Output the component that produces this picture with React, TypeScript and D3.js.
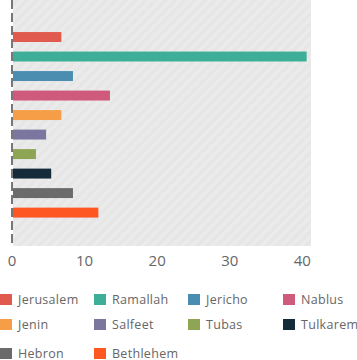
import React from "react";
import * as d3 from "d3";

const categories = ["Jerusalem", "Ramallah", "Jericho", "Nablus", "Jenin", "Salfeet", "Tubas", "Tulkarem", "Hebron", "Bethlehem"];
const values = [6.8, 40.6, 8.4, 13.5, 6.8, 4.7, 3.3, 5.4, 8.4, 11.9];
const colors = ["#e05a4e", "#3fae98", "#4a8db0", "#d05a7c", "#f59e47", "#7a76a0", "#8ea653", "#152b39", "#6b6b6b", "#ff5722"];
const tickValues = [0, 10, 20, 30, 40];

const W = 357;
const H = 360;
const plotLeft = 12;
const plotRight = 311;
const plotTop = 0;
const plotBottom = 246;

export default function App() {
  const x = d3.scaleLinear().domain([0, 41.2]).range([plotLeft, plotRight]);
  const y = d3
    .scaleBand<string>()
    .domain(categories)
    .range([plotTop, plotBottom])
    .paddingInner(0.49)
    .paddingOuter(1.55)
    .align(0.53);

  const legendCols = [0, 94, 188, 283];
  const legendRows = [294, 319, 348];

  return (
    <svg width={W} height={H} style={{ position: "absolute", left: 0, top: 0 }} fontFamily="'Open Sans', sans-serif">
      <defs>
        <pattern id="stripes" patternUnits="userSpaceOnUse" width={7} height={7} patternTransform="rotate(45)">
          <rect width={7} height={7} fill="#e6e6e6" />
          <rect width={3.5} height={7} fill="#ebebeb" />
        </pattern>
      </defs>
      <rect x={plotLeft + 1} y={plotTop} width={plotRight - plotLeft - 1} height={plotBottom - plotTop} fill="url(#stripes)" />
      {categories.map((c, i) => (
        <rect
          key={c}
          x={x(0) + 1}
          y={y(c)}
          width={x(values[i]) - x(0) - 1}
          height={y.bandwidth()}
          fill={colors[i]}
        />
      ))}
      <line x1={plotLeft} x2={plotLeft} y1={plotTop} y2={plotBottom} stroke="#777" strokeWidth={2} strokeDasharray="9 4" />
      {tickValues.map((t) => (
        <text key={t} x={x(t)} y={266} textAnchor="middle" fontSize={15} fill="#666">
          {t}
        </text>
      ))}
      {categories.map((c, i) => {
        const col = i % 4;
        const row = Math.floor(i / 4);
        const lx = legendCols[col];
        const ly = legendRows[row];
        return (
          <g key={c} transform={`translate(${lx},${ly})`}>
            <rect x={0} y={0} width={12} height={11} fill={colors[i]} />
            <text x={18} y={10} fontSize={12.5} fill="#666" letterSpacing={0.3}>
              {c}
            </text>
          </g>
        );
      })}
    </svg>
  );
}
